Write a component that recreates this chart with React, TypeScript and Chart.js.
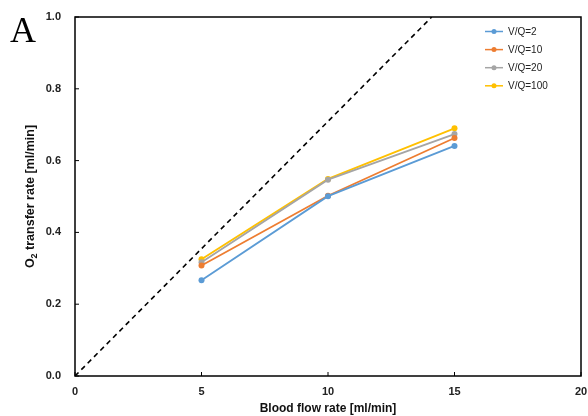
import React, { useEffect, useRef } from "react";
import { Chart, registerables } from "chart.js";

Chart.register(...registerables);

const flowRates = [5, 10, 15];
const seriesLabels = ["V/Q=2", "V/Q=10", "V/Q=20", "V/Q=100"];
const vq2 = [0.267, 0.501, 0.641];
const vq10 = [0.308, 0.502, 0.663];
const vq20 = [0.317, 0.547, 0.674];
const vq100 = [0.325, 0.549, 0.69];
const seriesColors = ["#5B9BD5", "#ED7D31", "#A5A5A5", "#FFC000"];
const referenceLine = [
  { x: 0, y: 0 },
  { x: 14.1, y: 1.0 },
];
const xTicks = [0, 5, 10, 15, 20];
const yTicks = [0, 0.2, 0.4, 0.6, 0.8, 1.0];
const yTitleParts = ["O", "2", " transfer rate [ml/min]"];

const FONT = "'Liberation Sans', Arial, sans-serif";

export default function App() {
  const ref = useRef<HTMLCanvasElement | null>(null);

  useEffect(() => {
    const canvas = ref.current;
    if (!canvas) return;
    const allSeries = [vq2, vq10, vq20, vq100];

    const frame = {
      id: "frameAndLegend",
      afterDraw(chart: any) {
        const { ctx, chartArea } = chart;
        const { left, right, top, bottom } = chartArea;
        ctx.save();
        ctx.strokeStyle = "#000";
        ctx.lineWidth = 1.5;
        ctx.strokeRect(left, top, right - left, bottom - top);
        // inward ticks
        ctx.lineWidth = 1;
        const xs = chart.scales.x;
        const ys = chart.scales.y;
        xTicks.forEach((t) => {
          const px = xs.getPixelForValue(t);
          ctx.beginPath();
          ctx.moveTo(px, bottom);
          ctx.lineTo(px, bottom - 4);
          ctx.stroke();
        });
        yTicks.forEach((t) => {
          const py = ys.getPixelForValue(t);
          ctx.beginPath();
          ctx.moveTo(left, py);
          ctx.lineTo(left + 4, py);
          ctx.stroke();
        });
        // legend
        ctx.font = "10px " + FONT;
        ctx.textBaseline = "middle";
        ctx.textAlign = "left";
        seriesLabels.forEach((lab, i) => {
          const y = 31.5 + i * 18.1;
          ctx.strokeStyle = seriesColors[i];
          ctx.fillStyle = seriesColors[i];
          ctx.lineWidth = 1.5;
          ctx.beginPath();
          ctx.moveTo(485, y);
          ctx.lineTo(503, y);
          ctx.stroke();
          ctx.beginPath();
          ctx.arc(494, y, 2.5, 0, Math.PI * 2);
          ctx.fill();
          ctx.fillStyle = "#222";
          ctx.fillText(lab, 508, y + 0.5);
        });
        // y-axis title with subscript
        ctx.save();
        const cy = (top + bottom) / 2;
        ctx.translate(29, cy);
        ctx.rotate(-Math.PI / 2);
        ctx.fillStyle = "#111";
        ctx.textBaseline = "alphabetic";
        const mainFont = "bold 12.5px " + FONT;
        const subFont = "bold 9px " + FONT;
        ctx.font = mainFont;
        const w0 = ctx.measureText(yTitleParts[0]).width;
        const w2 = ctx.measureText(yTitleParts[2]).width;
        ctx.font = subFont;
        const w1 = ctx.measureText(yTitleParts[1]).width;
        let xpos = -(w0 + w1 + w2) / 2;
        const base = 4.5;
        ctx.font = mainFont;
        ctx.fillText(yTitleParts[0], xpos, base);
        xpos += w0;
        ctx.font = subFont;
        ctx.fillText(yTitleParts[1], xpos, base + 3);
        xpos += w1;
        ctx.font = mainFont;
        ctx.fillText(yTitleParts[2], xpos, base);
        ctx.restore();
        // panel label
        ctx.fillStyle = "#000";
        ctx.font = "36px 'Liberation Serif', 'Times New Roman', serif";
        ctx.textBaseline = "alphabetic";
        ctx.fillText("A", 10, 42);
        ctx.restore();
      },
    };

    const datasets: any[] = allSeries.map((vals, i) => ({
      label: seriesLabels[i],
      data: vals.map((v, j) => ({ x: flowRates[j], y: v })),
      borderColor: seriesColors[i],
      backgroundColor: seriesColors[i],
      borderWidth: 1.8,
      pointRadius: 3,
      pointBorderWidth: 0,
      pointHoverRadius: 3,
    }));
    datasets.push({
      label: "reference",
      data: referenceLine,
      borderColor: "#000",
      borderWidth: 1.6,
      borderDash: [5, 4],
      pointRadius: 0,
    });

    const chart = new Chart(canvas, {
      type: "line",
      data: { datasets },
      options: {
        responsive: false,
        animation: false,
        layout: { padding: { top: 17, right: 7, left: 0, bottom: 0 } },
        plugins: { legend: { display: false }, tooltip: { enabled: false } },
        scales: {
          x: {
            type: "linear",
            min: 0,
            max: 20,
            afterFit: (s: any) => {
              s.height = 40;
              s.paddingLeft = 0;
              s.paddingRight = 0;
            },
            afterBuildTicks: (s: any) => {
              s.ticks = xTicks.map((v) => ({ value: v }));
            },
            grid: { display: false },
            border: { display: false },
            ticks: {
              padding: 1,
              color: "#222",
              font: { family: FONT, size: 11, weight: "bold" },
              maxRotation: 0,
            },
            title: {
              display: true,
              text: "Blood flow rate [ml/min]",
              color: "#111",
              font: { family: FONT, size: 12, weight: "bold" },
              padding: { top: 0, bottom: 0 },
            },
          },
          y: {
            type: "linear",
            min: 0,
            max: 1,
            afterFit: (s: any) => {
              s.width = 75;
              s.paddingTop = 0;
              s.paddingBottom = 0;
            },
            afterBuildTicks: (s: any) => {
              s.ticks = yTicks.map((v) => ({ value: v }));
            },
            grid: { display: false },
            border: { display: false },
            ticks: {
              padding: 6,
              color: "#222",
              font: { family: FONT, size: 11, weight: "bold" },
              callback: (v: any) => Number(v).toFixed(1),
            },
            title: { display: false },
          },
        },
      },
      plugins: [frame],
    });

    return () => chart.destroy();
  }, []);

  return (
    <div style={{ position: "fixed", left: 0, top: 0, width: 588, height: 416, background: "#fff" }}>
      <canvas ref={ref} width={588} height={416} style={{ width: 588, height: 416, display: "block" }} />
    </div>
  );
}
